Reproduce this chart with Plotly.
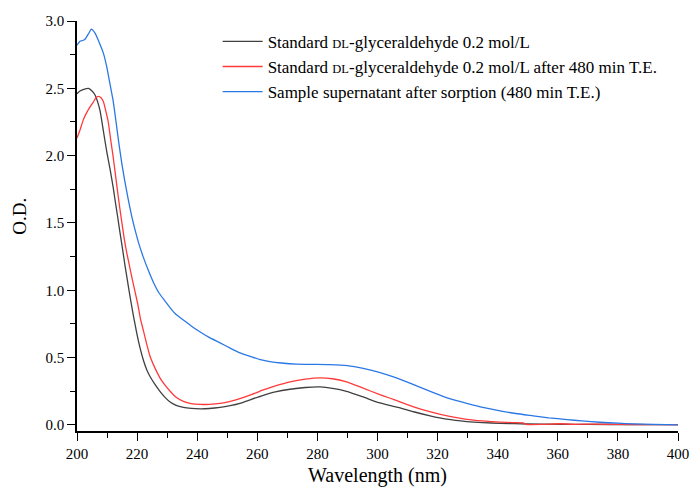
import plotly.graph_objects as go

# Standard DL-glyceraldehyde 0.2 mol/L
wl_std = [200, 201, 202, 203.8, 205, 206, 207, 207.7, 208.8, 209.9, 211, 212, 212.6, 213.5,
          214.3, 215.2, 216, 216.8, 217.6, 218.7, 219.9, 221, 222.1, 223.2, 224.3, 226,
          227.6, 229.3, 231, 233, 235.4, 238, 241, 244, 247.6, 251, 254.2, 258, 262, 266,
          270.9, 276, 280.9, 285, 289.7, 295, 300.8, 304, 307.5, 312, 317.5, 323, 329.7,
          335, 340.8, 350, 360, 370, 385, 400]
od_std = [2.46, 2.48, 2.49, 2.50, 2.48, 2.45, 2.39, 2.33, 2.18, 2.03, 1.90, 1.77, 1.68, 1.55,
          1.43, 1.30, 1.18, 1.07, 0.96, 0.82, 0.68, 0.57, 0.48, 0.41, 0.36, 0.30,
          0.25, 0.205, 0.17, 0.145, 0.13, 0.123, 0.12, 0.122, 0.13, 0.143, 0.16, 0.19, 0.22, 0.245,
          0.265, 0.278, 0.282, 0.272, 0.25, 0.21, 0.163, 0.145, 0.127, 0.098, 0.068, 0.043, 0.025,
          0.017, 0.012, 0.007, 0.005, 0.004, 0.003, 0.002]

# Standard DL-glyceraldehyde 0.2 mol/L after 480 min T.E.
wl_te = [200, 201, 202, 203, 204.3, 205.5, 206.3, 207.1, 208, 208.8, 209.6, 210.4, 211.2,
         212.1, 212.9, 213.7, 214.5, 215.4, 216.2, 217.1, 218.6, 220.2, 221.1, 222.1, 223.2,
         224.3, 226, 227.6, 229.3, 231, 233, 235.4, 238, 241, 244, 247.6, 251, 254.2, 258,
         262, 266, 270.9, 276, 280.9, 285, 289.7, 295, 300.8, 304, 307.5, 312, 318, 324,
         329.7, 335, 340.8, 345, 348.5, 349.5, 355, 361, 365, 372, 380, 390, 400]
od_te = [2.13, 2.19, 2.26, 2.31, 2.36, 2.40, 2.43, 2.44, 2.43, 2.40, 2.33, 2.25, 2.12,
         1.98, 1.84, 1.70, 1.57, 1.43, 1.32, 1.22, 1.06, 0.90, 0.79, 0.70, 0.60,
         0.51, 0.42, 0.35, 0.295, 0.25, 0.205, 0.175, 0.158, 0.152, 0.153, 0.16, 0.175, 0.195, 0.225,
         0.26, 0.29, 0.32, 0.34, 0.35, 0.343, 0.32, 0.275, 0.225, 0.2, 0.172, 0.135, 0.095, 0.063,
         0.042, 0.03, 0.021, 0.017, 0.015, 0.004, 0.004, 0.009, 0.005, 0.006, 0.004, 0.003, 0.002]

# Sample supernatant after sorption (480 min T.E.)
wl_sup = [200, 201, 202.5, 203.7, 204.8, 206, 207.6, 208.8, 209.9, 211, 212, 213, 214, 215,
          216, 217, 218.2, 219.3, 220.4, 222, 223.7, 225.4, 227.3, 229.3, 231, 233, 235.4,
          238, 241, 244, 247.6, 251, 254.2, 257.6, 261, 264.2, 268, 273.1, 278, 284.1, 290,
          295.2, 300, 306.3, 312, 318.6, 324, 329.7, 335, 340.8, 346, 351.8, 357, 363, 368,
          374, 380, 385, 392, 400]
od_sup = [2.82, 2.85, 2.86, 2.90, 2.94, 2.91, 2.83, 2.76, 2.66, 2.53, 2.41, 2.25, 2.08, 1.93,
          1.80, 1.68, 1.55, 1.45, 1.36, 1.25, 1.15, 1.06, 0.98, 0.92, 0.87, 0.82, 0.78,
          0.735, 0.69, 0.65, 0.61, 0.57, 0.535, 0.51, 0.485, 0.47, 0.46, 0.452, 0.45, 0.448, 0.44,
          0.42, 0.395, 0.35, 0.30, 0.24, 0.195, 0.16, 0.13, 0.105, 0.085, 0.068, 0.053, 0.04, 0.03,
          0.02, 0.013, 0.008, 0.004, 0.001]

names = [
    "Standard <span style='font-size:12.5px'>DL</span>-glyceraldehyde 0.2 mol/L",
    "Standard <span style='font-size:12.5px'>DL</span>-glyceraldehyde 0.2 mol/L after 480 min T.E.",
    "Sample supernatant after sorption (480 min T.E.)",
]
colors = ["#404040", "#ff3a3a", "#2a78e6"]

FONT = "Liberation Serif"

fig = go.Figure()
for x, y, n, c in zip([wl_std, wl_te, wl_sup], [od_std, od_te, od_sup], names, colors):
    fig.add_trace(go.Scatter(x=x, y=y, mode="lines", name=n,
                             line=dict(color=c, width=1.3, shape="spline", smoothing=0.5)))

fig.update_layout(
    width=690, height=487,
    margin=dict(l=77, r=12, t=21, b=56),
    paper_bgcolor="white", plot_bgcolor="white",
    font=dict(family=FONT, color="black", size=15),
    showlegend=True,
    legend=dict(x=0.234, y=0.993, xanchor="left", yanchor="top",
                bgcolor="rgba(0,0,0,0)", font=dict(size=17, family=FONT),
                tracegroupgap=0, itemwidth=40),
)
fig.update_xaxes(range=[200, 400], tickmode="linear", tick0=200, dtick=20, automargin=False,
                 showgrid=False, zeroline=False, showline=True, linecolor="black", linewidth=1.5,
                 ticks="outside", ticklen=8, tickwidth=1.3, tickcolor="black",
                 minor=dict(dtick=10, ticks="outside", ticklen=5,
                            tickwidth=1.3, tickcolor="black", showgrid=False),
                 tickfont=dict(size=15, family=FONT),
                 title=dict(text="Wavelength (nm)", font=dict(size=20, family=FONT), standoff=8))
fig.update_yaxes(range=[-0.045, 3.0], tickmode="linear", tick0=0, dtick=0.5, tickformat=".1f",
                 automargin=False,
                 showgrid=False, zeroline=False, showline=True, linecolor="black", linewidth=1.5,
                 ticks="outside", ticklen=8, tickwidth=1.3, tickcolor="black",
                 minor=dict(dtick=0.25, ticks="outside", ticklen=5,
                            tickwidth=1.3, tickcolor="black", showgrid=False),
                 tickfont=dict(size=15, family=FONT))

# y-axis title placed as an annotation (reference sits slightly above the plot centre)
fig.add_annotation(text="O.D.", xref="paper", yref="paper", x=-0.095, y=0.525,
                   xanchor="center", yanchor="middle", showarrow=False, textangle=-90,
                   font=dict(size=19, family=FONT, color="black"))

fig.write_html("out.html", config={"displayModeBar": False},
               post_script="document.body.style.margin='0';")
